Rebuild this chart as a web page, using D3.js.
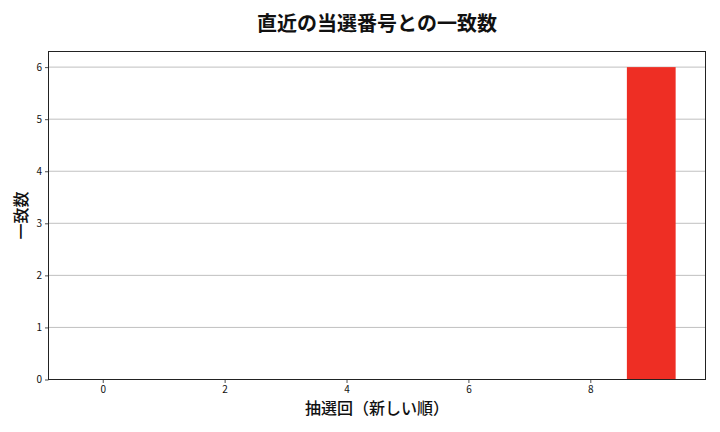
<!DOCTYPE html>
<html>
<head>
<meta charset="utf-8">
<script src="https://cdn.jsdelivr.net/npm/d3@7"></script>
<style>
  body { margin: 0; background: #fff; }
  text { font-family: "Noto Sans CJK JP", "Noto Sans", sans-serif; }
</style>
</head>
<body>
<div id="chart"></div>
<script>
var width = 720;
var height = 432;

// data
var draws = [0, 1, 2, 3, 4, 5, 6, 7, 8, 9];
var matches = [0, 0, 0, 0, 0, 0, 0, 0, 0, 6];
var xTicks = [0, 2, 4, 6, 8];
var yTicks = [0, 1, 2, 3, 4, 5, 6];

var margin = {top: 51.5, right: 14.5, bottom: 52.5, left: 48.5};

var svg = d3.select('#chart').append('svg')
    .attr('width', width)
    .attr('height', height);

// matplotlib-like limits: bars span -0.4..9.4, 5% padding
var x = d3.scaleLinear()
    .domain([-0.89, 9.89])
    .range([margin.left, width - margin.right]);

var y = d3.scaleLinear()
    .domain([0, 6.3])
    .range([height - margin.bottom, margin.top]);

var barW = 0.8;

//grid
svg.append('g')
    .selectAll('line')
    .data(yTicks)
    .enter().append('line')
    .attr('x1', margin.left)
    .attr('x2', width - margin.right)
    .attr('y1', function(d) { return y(d); })
    .attr('y2', function(d) { return y(d); })
    .attr('stroke', '#b0b0b0')
    .attr('stroke-width', 0.8);

//bars
svg.append('g')
    .selectAll('rect')
    .data(draws)
    .enter().append('rect')
    .attr('x', function(d) { return x(d - barW / 2); })
    .attr('width', function(d) { return x(d + barW / 2) - x(d - barW / 2); })
    .attr('y', function(d, i) { return y(matches[i]); })
    .attr('height', function(d, i) { return y(0) - y(matches[i]); })
    .attr('fill', '#ee2e24');

//axes
var xAxis = d3.axisBottom(x).tickValues(xTicks).tickFormat(d3.format('d'))
    .tickSize(3.5).tickPadding(3).tickSizeOuter(0);
var yAxis = d3.axisLeft(y).tickValues(yTicks).tickFormat(d3.format('d'))
    .tickSize(3.5).tickPadding(3).tickSizeOuter(0);

var gx = svg.append('g')
    .attr('transform', 'translate(0,' + (height - margin.bottom) + ')')
    .call(xAxis);
var gy = svg.append('g')
    .attr('transform', 'translate(' + margin.left + ',0)')
    .call(yAxis);

[gx, gy].forEach(function(g) {
    g.select('.domain').remove();
    g.selectAll('line').attr('stroke', '#222').attr('stroke-width', 0.8);
    g.selectAll('text').style('font-size', '10px').attr('fill', '#111');
});

// frame
svg.append('rect')
    .attr('x', margin.left)
    .attr('y', margin.top)
    .attr('width', width - margin.left - margin.right)
    .attr('height', height - margin.top - margin.bottom)
    .attr('fill', 'none')
    .attr('stroke', '#222')
    .attr('stroke-width', 1);

//labels
svg.append('text')
    .attr('x', (margin.left + width - margin.right) / 2)
    .attr('y', 31)
    .attr('text-anchor', 'middle')
    .style('font-size', '20px')
    .style('font-weight', 'bold')
    .attr('fill', '#111')
    .text('直近の当選番号との一致数');

svg.append('text')
    .attr('x', (margin.left + width - margin.right) / 2)
    .attr('y', 414)
    .attr('text-anchor', 'middle')
    .style('font-size', '16px')
    .style('font-weight', '500')
    .attr('fill', '#111')
    .text('抽選回（新しい順）');

svg.append('text')
    .attr('transform', 'translate(27,' + ((margin.top + height - margin.bottom) / 2) + ') rotate(-90)')
    .attr('text-anchor', 'middle')
    .style('font-size', '16px')
    .style('font-weight', '500')
    .attr('fill', '#111')
    .text('一致数');
</script>
</body>
</html>
